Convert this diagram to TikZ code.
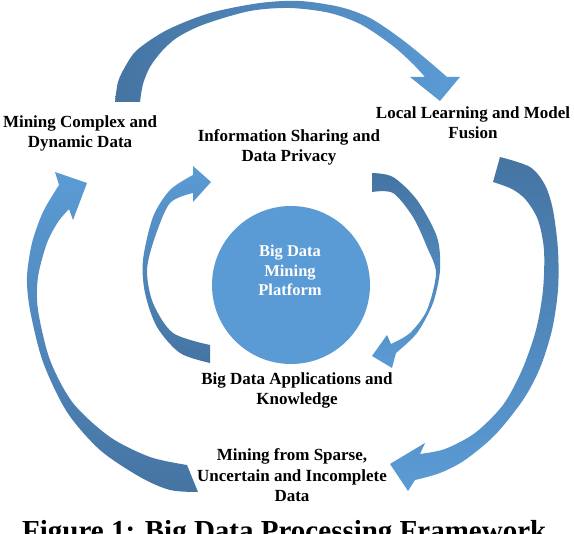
\documentclass[tikz,border=0pt]{standalone}
\usepackage{fontspec}
\setmainfont{Liberation Serif}
\definecolor{arrdark}{HTML}{4574A2}
\definecolor{arrlight}{HTML}{5B9BD5}
\definecolor{circfill}{HTML}{5B9BD5}
\begin{document}
\begin{tikzpicture}[x=1pt,y=-1pt,
  lbl/.style={font=\bfseries\fontsize{17}{20.5}\selectfont, align=center, inner sep=0pt, text=black, anchor=base},
  inlbl/.style={font=\bfseries\fontsize{16.5}{19.5}\selectfont, align=center, inner sep=0pt, text=white, anchor=base},
  capt/.style={font=\bfseries\fontsize{29}{34}\selectfont, inner sep=0pt, anchor=base west},
  platform/.style={circle, fill=circfill, inner sep=0pt, minimum size=158pt}]
\useasboundingbox (0,0) rectangle (574,534);
\clip (0,0) rectangle (574,534);

% top arrow
\shade[left color=arrdark, right color=arrlight]
  plot[smooth] coordinates {(115,102) (118,82) (125,67) (137,50) (167,30) (210,13) (260,3) (300,1) (340,7) (370,18) (400,38) (425,58) (447,77)}
  -- (460,77) -- (440,101) -- (410,77) --
  plot[smooth] coordinates {(425,77) (413,64) (393,46) (362,25) (330,13) (290,8) (250,11) (205,24) (178,37) (162,51) (150,67) (143,84) (140,102)}
  -- cycle;

% right big arrow
\shade[top color=arrdark, bottom color=arrlight]
  plot[smooth] coordinates {(500,157) (530,167) (545,185) (553,210) (558,250) (558,290) (552,330) (540,368) (523,400) (495,435) (465,460) (440,473) (415,480)}
  -- (408,491) -- (390,464) -- (425,443) --
  plot[smooth] coordinates {(420,454) (445,449) (475,433) (503,405) (522,370) (536,330) (543,290) (544,250) (538,220) (526,200) (512,189) (493,182)}
  -- cycle;

% left big arrow
\shade[bottom color=arrdark, top color=arrlight]
  plot[smooth] coordinates {(198,492) (170,490) (140,477) (100,450) (67,412) (43,362) (30,310) (27,277) (32,243) (43,212) (59,185)}
  -- (55,172) -- (87,183) -- (73,220) --
  plot[smooth] coordinates {(69,209) (58,222) (47,243) (38,277) (38,310) (50,360) (73,403) (110,437) (150,457) (187,465)}
  -- cycle;

% inner left arrow
\shade[bottom color=arrdark, top color=arrlight]
  plot[smooth] coordinates {(210,363) (180,353) (157,327) (145,293) (143,260) (153,217) (170,190) (193,175)}
  -- (193,166) -- (211,182) -- (193,202) --
  plot[smooth] coordinates {(193,193) (170,203) (155,237) (147,270) (153,303) (173,333) (210,345)}
  -- cycle;

% inner right arrow
\shade[top color=arrdark, bottom color=arrlight]
  plot[smooth] coordinates {(372,173) (393,177) (417,200) (437,237) (440,270) (433,303) (417,333) (396,353)}
  -- (392,368) -- (372,356) -- (387,335) --
  plot[smooth] coordinates {(391,344) (410,333) (427,310) (436,273) (427,247) (413,217) (393,193) (372,192)}
  -- cycle;

\node[platform] (core) at (291,285) {};
\node[inlbl] (coretext) at (290,296) {Big Data\\Mining\\Platform};

\node[lbl] (complex) at (80,148) {Mining Complex and\\Dynamic Data};
\node[lbl] (sharing) at (289,162) {Information Sharing and\\Data Privacy};
\node[lbl] (local) at (473,139) {Local Learning and Model\\Fusion};
\node[lbl] (apps) at (297,405) {Big Data Applications and\\Knowledge};
\node[lbl] (sparse) at (292,502) {Mining from Sparse,\\Uncertain and Incomplete\\Data};

\node[capt] (caption) at (22,541) {Figure 1: Big Data Processing Framework};
\end{tikzpicture}
\end{document}
